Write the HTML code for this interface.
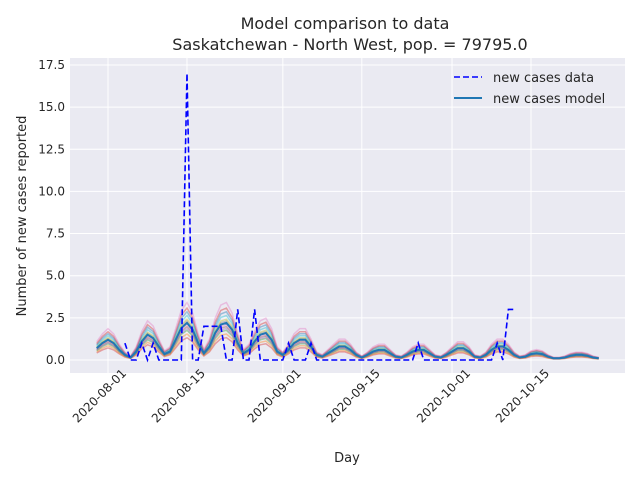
<!DOCTYPE html>
<html><head><meta charset="utf-8"><style>
body{margin:0;background:#fff;font-family:"Liberation Sans","DejaVu Sans",sans-serif}
svg text{font-family:"DejaVu Sans","Liberation Sans",sans-serif;fill:#262626}
</style></head><body>
<svg id="chart" width="640" height="480"></svg>
<script>
const startDate = "2020-07-30";
const tickDays = [2,16,33,47,63,77];
const tickLabels = ["2020-08-01","2020-08-15","2020-09-01","2020-09-15","2020-10-01","2020-10-15"];
const yTicks = [0,2.5,5,7.5,10,12.5,15,17.5];
const dataDays = [5,6,7,8,9,10,11,12,13,14,15,16,17,18,19,20,21,22,23,24,25,26,27,28,29,30,31,32,33,34,35,36,37,38,39,40,41,42,43,44,45,46,47,48,49,50,51,52,53,54,55,56,57,58,59,60,61,62,63,64,65,66,67,68,69,70,71,72,73,74];
const dataCases = [1,0,0,1,0,1,0,0,0,0,0,17,0,0,2,2,2,2,0,0,3,0,0,3,0,0,0,0,0,1,0,0,0,1,0,0,0,0,0,0,0,0,0,0,0,0,0,0,0,0,0,0,1,0,0,0,0,0,0,0,0,0,0,0,0,0,1,0,3,3];
const modelMean = [0.7,1.0,1.2,1.0,0.6,0.3,0.15,0.5,1.1,1.5,1.3,0.8,0.35,0.5,1.2,1.9,2.2,1.8,1.0,0.4,0.8,1.6,2.1,2.2,1.8,1.0,0.4,0.6,1.1,1.5,1.6,1.2,0.5,0.3,0.6,1.0,1.2,1.2,0.8,0.3,0.2,0.4,0.6,0.8,0.8,0.6,0.3,0.15,0.3,0.5,0.6,0.6,0.4,0.2,0.15,0.3,0.5,0.6,0.6,0.4,0.2,0.15,0.3,0.5,0.7,0.7,0.5,0.2,0.15,0.3,0.6,0.8,0.8,0.6,0.3,0.15,0.2,0.35,0.4,0.35,0.2,0.1,0.1,0.15,0.25,0.3,0.3,0.25,0.15,0.1];
const ensembleScale = [0.6,0.7,0.8,0.85,0.9,0.95,1.05,1.1,1.2,1.3,1.4,1.55];
const ensembleColors = ["#d62728","#ff7f0e","#2ca02c","#9467bd","#8c564b","#e377c2","#7f7f7f","#bcbd22","#17becf","#1f77b4","#d62728","#e377c2"];

const NS="http://www.w3.org/2000/svg";
const svg=document.getElementById('chart');
const L=70,R=625,T=58,B=373;
const xs=d=>108+(d-2)*5.64;
const ys=v=>360-16.86*v;
function mk(tag,attrs,parent){const e=document.createElementNS(NS,tag);for(const k in attrs)e.setAttribute(k,attrs[k]);(parent||svg).appendChild(e);return e;}

const bg=mk('rect',{x:L,y:T,width:R-L,height:B-T,fill:'#eaeaf2'});


yTicks.forEach(v=>{
  const g=mk('line',{x1:L,x2:R,y1:ys(v),y2:ys(v),stroke:'#fff','stroke-width':1});
  
  
  const t=mk('text',{x:L-5,y:ys(v)+4,'text-anchor':'end','font-size':12});
  t.textContent=v.toFixed(1);
  
  
});
tickDays.forEach((d,i)=>{
  const g=mk('line',{x1:xs(d),x2:xs(d),y1:T,y2:B,stroke:'#fff','stroke-width':1});
  
  
  const px=xs(d)+19, py=B+1;
  const t=mk('text',{x:px,y:py,'text-anchor':'end','font-size':12,transform:`rotate(-45 ${px} ${py})`});
  t.textContent=tickLabels[i];
  
  
});
function path(vals,days){return vals.map((v,i)=>(i?'L':'M')+xs(days?days[i]:i).toFixed(1)+','+ys(v).toFixed(1)).join('');}
ensembleScale.forEach((s,k)=>{
  const vals=modelMean.map(v=>v*s);
  const p=mk('path',{d:path(vals),fill:'none',stroke:ensembleColors[k],'stroke-width':1.5,opacity:0.4});
  
  
});
const m=mk('path',{d:path(modelMean),fill:'none',stroke:'#1f77b4','stroke-width':2});


const dl=mk('path',{d:path(dataCases,dataDays),fill:'none',stroke:'#0000ff','stroke-width':1.6,'stroke-dasharray':'6,3'});



const t1=mk('text',{x:345,y:29,'text-anchor':'middle','font-size':16});
t1.textContent='Model comparison to data';


const t2=mk('text',{x:350,y:50,'text-anchor':'middle','font-size':16});
t2.textContent='Saskatchewan - North West, pop. = 79795.0';


const xl=mk('text',{x:347,y:462,'text-anchor':'middle','font-size':13});
xl.textContent='Day';


const yl=mk('text',{x:26,y:216,'text-anchor':'middle','font-size':13,transform:'rotate(-90 26 216)'});
yl.textContent='Number of new cases reported';



const l1=mk('line',{x1:454,x2:482,y1:77,y2:77,stroke:'#0000ff','stroke-width':1.6,'stroke-dasharray':'6,3'});


const lt1=mk('text',{x:493,y:82,'font-size':13});
lt1.textContent='new cases data';


const l2=mk('line',{x1:454,x2:482,y1:98,y2:98,stroke:'#1f77b4','stroke-width':2});


const lt2=mk('text',{x:493,y:103,'font-size':13});
lt2.textContent='new cases model';


</script>
</body></html>
